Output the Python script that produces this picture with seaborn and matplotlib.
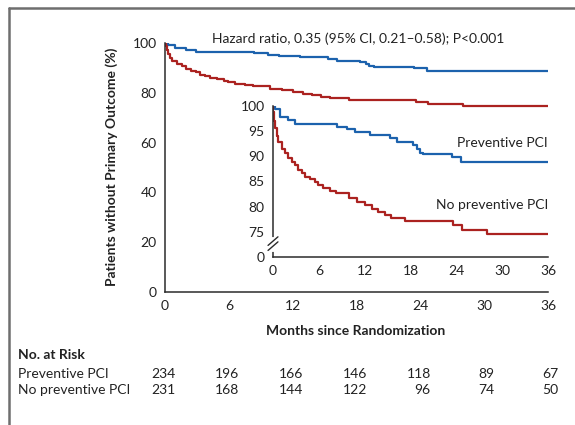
import matplotlib
matplotlib.use("Agg")
import matplotlib.pyplot as plt
import matplotlib.transforms as mtransforms
from matplotlib.lines import Line2D
import numpy as np
import pandas as pd
import seaborn as sns

# Kaplan-Meier step estimates (% of patients without primary outcome)
months_pci = [0, 0.3, 0.9, 2.0, 2.9, 8.4, 9.7, 10.7, 12.7, 15.3, 16.2, 18.3,
              18.9, 19.2, 19.6, 23.4, 24.6, 36]
surv_pci = [100, 99.3, 97.8, 97.2, 96.4, 95.8, 95.3, 94.8, 94.2, 93.5, 92.9,
            92.2, 91.4, 90.6, 90.4, 89.9, 88.9, 88.9]

months_nopci = [0, 0.05, 0.15, 0.26, 0.48, 0.7, 1.13, 1.57, 2.0, 2.44, 2.88,
                3.3, 3.75, 4.2, 4.9, 5.5, 5.9, 6.6, 7.5, 8.3, 9.9, 11.0, 12.0,
                13.0, 13.8, 14.7, 15.5, 17.3, 23.6, 24.7, 28.0, 36]
surv_nopci = [100, 98.8, 97.0, 95.5, 93.9, 92.9, 91.5, 90.6, 89.6, 88.9, 88.2,
              87.3, 86.6, 85.9, 85.4, 84.9, 84.3, 83.7, 83.1, 82.6, 81.6, 81.0,
              80.3, 79.6, 79.0, 78.4, 77.8, 77.2, 76.3, 75.4, 74.5, 74.5]

group_names = ["Preventive PCI", "No preventive PCI"]
risk_months = [0, 6, 12, 18, 24, 30, 36]
at_risk_pci = [234, 196, 166, 146, 118, 89, 67]
at_risk_nopci = [231, 168, 144, 122, 96, 74, 50]

hr_text = "Hazard ratio, 0.35 (95% CI, 0.21\u20130.58); P<0.001"

df = pd.concat([
    pd.DataFrame({"month": months_pci, "surv": surv_pci, "group": group_names[0]}),
    pd.DataFrame({"month": months_nopci, "surv": surv_nopci, "group": group_names[1]}),
], ignore_index=True)

sns.set_theme(style="white")
FONT = ["Lato", "DejaVu Sans"]
plt.rcParams["font.family"] = FONT
plt.rcParams["axes.unicode_minus"] = False

palette = {group_names[0]: "#1c62ad", group_names[1]: "#ab2220"}
axis_col = "#2b2b2b"
W, H = 575, 425

fig = plt.figure(figsize=(W / 100, H / 100), dpi=100)
fig.patch.set_facecolor("white")


def fx(px):
    return px / W


def fy(py):
    return 1 - py / H


def style_axes(ax, fs):
    for side in ("top", "right"):
        ax.spines[side].set_visible(False)
    for side in ("left", "bottom"):
        ax.spines[side].set_color(axis_col)
        ax.spines[side].set_linewidth(1.1)
    ax.tick_params(axis="both", direction="out", length=4, width=1.0,
                   color=axis_col, labelsize=fs, labelcolor="#222222", pad=2)
    ax.set_xlabel("")
    ax.set_ylabel("")
    ax.grid(False)


# Main survival axes
ax = fig.add_axes([fx(165), fy(292), fx(548) - fx(165), fy(43) - fy(292)])
sns.lineplot(data=df, x="month", y="surv", hue="group", palette=palette,
             drawstyle="steps-post", linewidth=1.6, legend=False, ax=ax,
             estimator=None)
ax.set_xlim(0, 36)
ax.set_ylim(0, 100)
ax.set_xticks(risk_months)
ax.set_yticks([0, 20, 40, 60, 80, 100])
ax.patch.set_alpha(0)
style_axes(ax, 10)

# Zoomed inset (y from 70 shown as "0" with axis break)
ins = fig.add_axes([fx(273), fy(257), fx(548) - fx(273), fy(105.7) - fy(257)])
sns.lineplot(data=df, x="month", y="surv", hue="group", palette=palette,
             drawstyle="steps-post", linewidth=1.6, legend=False, ax=ins,
             estimator=None)
ins.set_xlim(0, 36)
ins.set_ylim(70, 100)
ins.set_xticks(risk_months)
ins.set_yticks([70, 75, 80, 85, 90, 95, 100])
ins.set_yticklabels(["0", "75", "80", "85", "90", "95", "100"])
ins.patch.set_alpha(0)
style_axes(ins, 10)

# Axis break marks on the inset y axis
brk = mtransforms.blended_transform_factory(ins.transAxes, ins.transData)
ins.add_line(Line2D([0, 0], [71.4, 73.6], transform=brk, color="white",
                    lw=3, clip_on=False, zorder=5))
for y0 in (71.3, 72.3):
    ins.add_line(Line2D([-0.018, 0.018], [y0, y0 + 1.7], transform=brk,
                        color=axis_col, lw=1.0, clip_on=False, zorder=6))

# Inset curve labels
ins.text(36, 91.5, group_names[0], ha="right", va="bottom", fontsize=10,
         color="#222222")
ins.text(36, 79.2, group_names[1], ha="right", va="bottom", fontsize=10,
         color="#222222")

# Titles and axis labels
fig.text(fx(212), fy(39), hr_text, ha="left", va="center", fontsize=10,
         color="#222222")
fig.text(fx(112), fy(167), "Patients without Primary Outcome (%)", rotation=90,
         ha="center", va="center", fontsize=10, fontweight="bold",
         color="#222222")
fig.text(fx(356), fy(331), "Months since Randomization", ha="center",
         va="center", fontsize=10, fontweight="bold", color="#222222")

# Number at risk table
fig.text(fx(18), fy(355), "No. at Risk", ha="left", va="center", fontsize=10,
         fontweight="bold", color="#222222")
rows = [(group_names[0], at_risk_pci, 374), (group_names[1], at_risk_nopci, 390)]
risk_tf = mtransforms.blended_transform_factory(ax.transData, fig.transFigure)
for name, counts, py in rows:
    fig.text(fx(18), fy(py), name, ha="left", va="center", fontsize=10,
             color="#222222")
    for m, n in zip(risk_months, counts):
        ax.annotate(str(n), xy=(m, fy(py)), xycoords=risk_tf,
                    xytext=(7.5, 0), textcoords="offset points",
                    ha="right", va="center", fontsize=10, color="#222222",
                    annotation_clip=False)

# Panel frame
frame_col = "#6e6e6e"
fig.add_artist(Line2D([fx(8.5), fx(8.5)], [0, fy(7.5)], transform=fig.transFigure,
                      color=frame_col, lw=1.8))
fig.add_artist(Line2D([fx(8.5), 1.0], [fy(7.5), fy(7.5)], transform=fig.transFigure,
                      color=frame_col, lw=1.8))

fig.savefig("out.png", dpi=100, facecolor="white")
